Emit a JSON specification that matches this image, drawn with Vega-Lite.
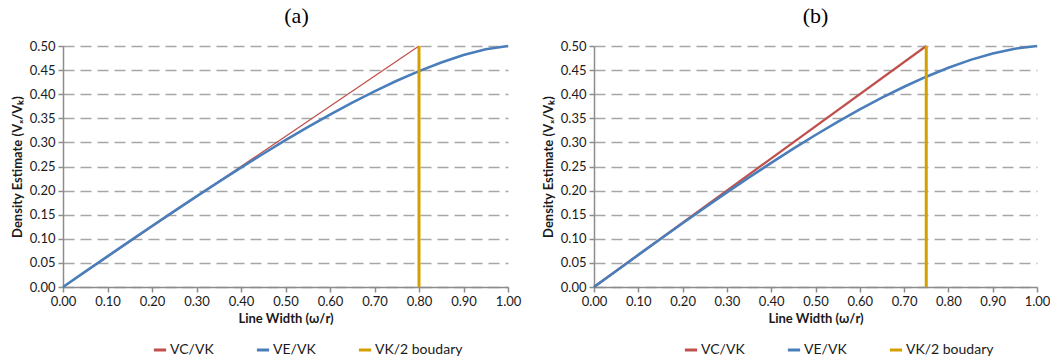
{
  "$schema": "https://vega.github.io/schema/vega-lite/v6.json",
  "padding": {"left": 11, "top": 5, "right": 0, "bottom": 0},
  "background": "white",
  "datasets": {
    "a": [
      {"series": "VC/VK", "x": 0, "y": 0},
      {"series": "VC/VK", "x": 0.8, "y": 0.5},
      {"series": "VE/VK", "x": 0, "y": 0},
      {"series": "VE/VK", "x": 0.05, "y": 0.03182},
      {"series": "VE/VK", "x": 0.1, "y": 0.06356},
      {"series": "VE/VK", "x": 0.15, "y": 0.09513},
      {"series": "VE/VK", "x": 0.2, "y": 0.12647},
      {"series": "VE/VK", "x": 0.25, "y": 0.15748},
      {"series": "VE/VK", "x": 0.3, "y": 0.18808},
      {"series": "VE/VK", "x": 0.35, "y": 0.21818},
      {"series": "VE/VK", "x": 0.4, "y": 0.24769},
      {"series": "VE/VK", "x": 0.45, "y": 0.27649},
      {"series": "VE/VK", "x": 0.5, "y": 0.3045},
      {"series": "VE/VK", "x": 0.55, "y": 0.33158},
      {"series": "VE/VK", "x": 0.6, "y": 0.35762},
      {"series": "VE/VK", "x": 0.65, "y": 0.38246},
      {"series": "VE/VK", "x": 0.7, "y": 0.40594},
      {"series": "VE/VK", "x": 0.75, "y": 0.42785},
      {"series": "VE/VK", "x": 0.8, "y": 0.44796},
      {"series": "VE/VK", "x": 0.85, "y": 0.46593},
      {"series": "VE/VK", "x": 0.9, "y": 0.48131},
      {"series": "VE/VK", "x": 0.95, "y": 0.49334},
      {"series": "VE/VK", "x": 1.0, "y": 0.5},
      {"series": "VK/2 boudary", "x": 0.8, "y": 0},
      {"series": "VK/2 boudary", "x": 0.8, "y": 0.5}
    ],
    "b": [
      {"series": "VC/VK", "x": 0, "y": 0},
      {"series": "VC/VK", "x": 0.75, "y": 0.5},
      {"series": "VE/VK", "x": 0, "y": 0},
      {"series": "VE/VK", "x": 0.05, "y": 0.03332},
      {"series": "VE/VK", "x": 0.1, "y": 0.06654},
      {"series": "VE/VK", "x": 0.15, "y": 0.09955},
      {"series": "VE/VK", "x": 0.2, "y": 0.13224},
      {"series": "VE/VK", "x": 0.25, "y": 0.1645},
      {"series": "VE/VK", "x": 0.3, "y": 0.19623},
      {"series": "VE/VK", "x": 0.35, "y": 0.22729},
      {"series": "VE/VK", "x": 0.4, "y": 0.25759},
      {"series": "VE/VK", "x": 0.45, "y": 0.28699},
      {"series": "VE/VK", "x": 0.5, "y": 0.31536},
      {"series": "VE/VK", "x": 0.55, "y": 0.34256},
      {"series": "VE/VK", "x": 0.6, "y": 0.36844},
      {"series": "VE/VK", "x": 0.65, "y": 0.39283},
      {"series": "VE/VK", "x": 0.7, "y": 0.41554},
      {"series": "VE/VK", "x": 0.75, "y": 0.43635},
      {"series": "VE/VK", "x": 0.8, "y": 0.45502},
      {"series": "VE/VK", "x": 0.85, "y": 0.47122},
      {"series": "VE/VK", "x": 0.9, "y": 0.48451},
      {"series": "VE/VK", "x": 0.95, "y": 0.4944},
      {"series": "VE/VK", "x": 1.0, "y": 0.5},
      {"series": "VK/2 boudary", "x": 0.75, "y": 0},
      {"series": "VK/2 boudary", "x": 0.75, "y": 0.5}
    ]
  },
  "hconcat": [
    {
      "title": {"text": "(a)", "dx": 11},
      "width": 445,
      "height": 241,
      "data": {"name": "a"},
      "encoding": {
        "x": {"field": "x", "type": "quantitative", "scale": {"domain": [0, 1], "nice": false},
              "axis": {"values": [0, 0.1, 0.2, 0.3, 0.4, 0.5, 0.6, 0.7, 0.8, 0.9, 1.0], "format": ".2f", "title": "Line Width (ω/r)"}},
        "y": {"field": "y", "type": "quantitative", "scale": {"domain": [0, 0.5], "nice": false},
              "axis": {"values": [0, 0.05, 0.1, 0.15, 0.2, 0.25, 0.3, 0.35, 0.4, 0.45, 0.5], "format": ".2f", "title": "Density Estimate (Vₓ/Vₖ)"}},
        "color": {"field": "series", "type": "nominal",
                  "scale": {"domain": ["VC/VK", "VE/VK", "VK/2 boudary"], "range": ["#c0504d", "#4a7ebb", "#d4a000"]},
                  "legend": {"orient": "none", "legendX": 89, "legendY": 296, "direction": "horizontal", "title": null}}
      },
      "layer": [
        {"transform": [{"filter": "datum.series == 'VC/VK'"}], "mark": {"type": "line", "strokeWidth": 1.3}},
        {"transform": [{"filter": "datum.series == 'VE/VK'"}], "mark": {"type": "line", "strokeWidth": 2.6}},
        {"transform": [{"filter": "datum.series == 'VK/2 boudary'"}], "mark": {"type": "line", "strokeWidth": 3}}
      ]
    },
    {
      "title": {"text": "(b)"},
      "width": 443,
      "height": 241,
      "data": {"name": "b"},
      "encoding": {
        "x": {"field": "x", "type": "quantitative", "scale": {"domain": [0, 1], "nice": false},
              "axis": {"values": [0, 0.1, 0.2, 0.3, 0.4, 0.5, 0.6, 0.7, 0.8, 0.9, 1.0], "format": ".2f", "title": "Line Width (ω/r)"}},
        "y": {"field": "y", "type": "quantitative", "scale": {"domain": [0, 0.5], "nice": false},
              "axis": {"values": [0, 0.05, 0.1, 0.15, 0.2, 0.25, 0.3, 0.35, 0.4, 0.45, 0.5], "format": ".2f", "title": "Density Estimate (Vₓ/Vₖ)"}},
        "color": {"field": "series", "type": "nominal",
                  "scale": {"domain": ["VC/VK", "VE/VK", "VK/2 boudary"], "range": ["#c0504d", "#4a7ebb", "#d4a000"]},
                  "legend": {"orient": "none", "legendX": 89, "legendY": 296, "direction": "horizontal", "title": null}}
      },
      "layer": [
        {"transform": [{"filter": "datum.series == 'VC/VK'"}], "mark": {"type": "line", "strokeWidth": 2.2}},
        {"transform": [{"filter": "datum.series == 'VE/VK'"}], "mark": {"type": "line", "strokeWidth": 2.6}},
        {"transform": [{"filter": "datum.series == 'VK/2 boudary'"}], "mark": {"type": "line", "strokeWidth": 3}}
      ]
    }
  ],
  "spacing": 21,
  "resolve": {"scale": {"color": "independent", "x": "independent", "y": "independent"}, "legend": {"color": "independent"}},
  "config": {
    "view": {"stroke": null},
    "font": "Lato",
    "title": {"font": "Liberation Serif", "fontSize": 22, "fontWeight": "normal", "color": "#000", "offset": 12, "anchor": "middle"},
    "axis": {"domainColor": "#8c8c8c", "domainWidth": 1.5, "tickColor": "#8c8c8c", "tickWidth": 1.5, "tickSize": 5,
             "labelFont": "Lato", "labelFontSize": 13, "labelColor": "#1a1a1a", "labelPadding": 3, "labelFlush": false, "labelOverlap": false,
             "titleFont": "Lato", "titleFontSize": 13, "titleFontWeight": "bold", "titleColor": "#1a1a1a"},
    "axisY": {"grid": true, "gridDash": [11, 6], "gridColor": "#a6a6a6", "gridWidth": 1.5, "titlePadding": 5},
    "axisX": {"grid": false, "titlePadding": 4},
    "legend": {"symbolType": "stroke", "symbolStrokeWidth": 3, "symbolSize": 150, "labelFont": "Lato", "labelFontSize": 14, "labelColor": "#1a1a1a", "columnPadding": 36, "labelOffset": 2}
  }
}
